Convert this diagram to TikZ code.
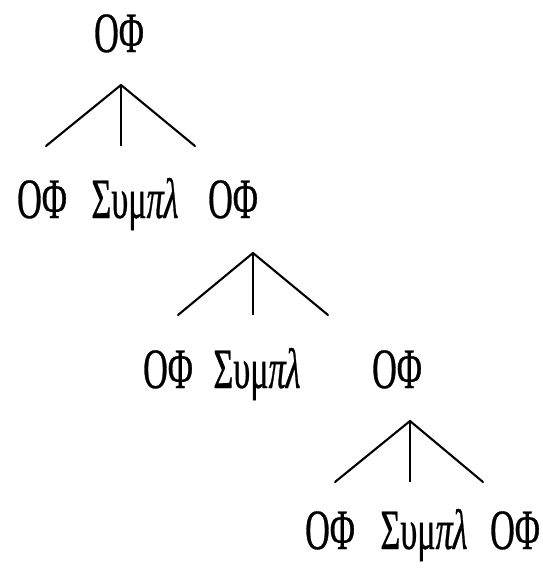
\documentclass[tikz,border=0pt]{standalone}
\usepackage{fontspec}
\newfontfamily\grfont[FakeStretch=0.6,FakeBold=0.5,ItalicFeatures={FakeStretch=0.6,FakeBold=0.5}]{Liberation Serif}
\newcommand{\symp}{Συμ\textit{πλ}}
\tikzset{
  lbl/.style={inner sep=0pt, anchor=base, font=\grfont\fontsize{57}{60}\selectfont},
  branch/.style={line width=2.1pt, line cap=round},
  stem/.style={line width=1.2pt}
}
\begin{document}
\begin{tikzpicture}[x=1pt,y=-1pt]
\useasboundingbox (0,0) rectangle (542,571);
% level 1
\node[lbl] (r) at (119,52) {ΟΦ};
\coordinate (a1) at (121,85);
\coordinate (l1) at (46,146);
\coordinate (m1) at (121,146);
\coordinate (e1) at (195,146);
\draw[branch] (l1) -- (a1) -- (e1);
\draw[stem] (a1) -- (m1);
% level 2
\node[lbl] (n2a) at (42,218) {ΟΦ};
\node[lbl] (n2b) at (135,218) {\symp};
\node[lbl] (n2c) at (233,218) {ΟΦ};
\coordinate (a2) at (253,253);
\coordinate (l2) at (178,315);
\coordinate (m2) at (253,315);
\coordinate (e2) at (328,315);
\draw[branch] (l2) -- (a2) -- (e2);
\draw[stem] (a2) -- (m2);
% level 3
\node[lbl] (n3a) at (168,388) {ΟΦ};
\node[lbl] (n3b) at (257,388) {\symp};
\node[lbl] (n3c) at (397,388) {ΟΦ};
\coordinate (a3) at (410,421);
\coordinate (l3) at (335,482);
\coordinate (m3) at (410,482);
\coordinate (e3) at (483,482);
\draw[branch] (l3) -- (a3) -- (e3);
\draw[stem] (a3) -- (m3);
% level 4
\node[lbl] (n4a) at (330,549) {ΟΦ};
\node[lbl] (n4b) at (424,549) {\symp};
\node[lbl] (n4c) at (515,549) {ΟΦ};
\end{tikzpicture}
\end{document}
